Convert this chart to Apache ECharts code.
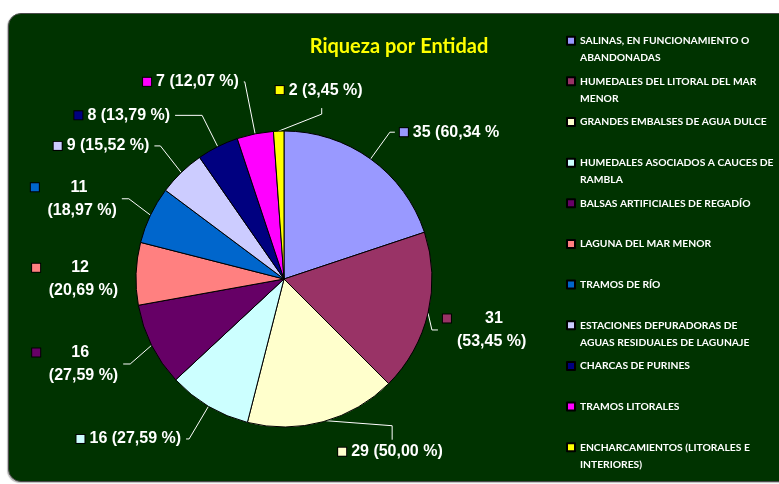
<!DOCTYPE html>
<html>
<head>
<meta charset="utf-8">
<script src="https://cdn.jsdelivr.net/npm/echarts@6/dist/echarts.min.js"></script>
<style>
  html, body { margin: 0; padding: 0; background: #fff; overflow: hidden; }
  #box {
    position: absolute; left: 8px; top: 13px; width: 800px; height: 467px;
    background: #003300; border: 1px solid #4a4a4a; border-radius: 13px;
    box-shadow: -1px 1px 1px #bbb;
  }
  #chart { position: absolute; left: 0; top: 0; width: 779px; height: 484px; }
</style>
</head>
<body>
<div id="box"></div>
<div id="chart"></div>
<script>
// datos
const categories = [
  'SALINAS, EN FUNCIONAMIENTO O\nABANDONADAS',
  'HUMEDALES DEL LITORAL DEL MAR\nMENOR',
  'GRANDES EMBALSES DE AGUA DULCE',
  'HUMEDALES ASOCIADOS A CAUCES DE\nRAMBLA',
  'BALSAS ARTIFICIALES DE REGADÍO',
  'LAGUNA DEL MAR MENOR',
  'TRAMOS DE RÍO',
  'ESTACIONES DEPURADORAS DE\nAGUAS RESIDUALES DE LAGUNAJE',
  'CHARCAS DE PURINES',
  'TRAMOS LITORALES',
  'ENCHARCAMIENTOS (LITORALES E\nINTERIORES)'
]
const values = [35, 31, 29, 16, 16, 12, 11, 9, 8, 7, 2]
const labelTexts = [
  '35 (60,34 %', '31\n(53,45 %)', '29 (50,00 %)', '16 (27,59 %)',
  '16\n(27,59 %)', '12\n(20,69 %)', '11\n(18,97 %)', '9 (15,52 %)',
  '8 (13,79 %)', '7 (12,07 %)', '2 (3,45 %)'
]
const colors = ['#9999ff', '#993366', '#ffffcc', '#ccffff', '#660066', '#ff8080',
  '#0066cc', '#ccccff', '#000080', '#ff00ff', '#ffff00']

// ajustes de las lineas guia (estilo Excel)
const lineLen = [33, 4, 32, 38, 24, 12, 24, 30, 35, 53, 20]
const lineLen2 = [5, 6, 2, 3, 7, 1, 7, 6, 27, 1, 5]
const nudge = [0, 16, 0, 0, 8, 6, -6, -5, 0, 0, 0]

const chart = echarts.init(document.getElementById('chart'))

const lblFont = { color: '#fff', fontSize: 16, fontWeight: 'bold', fontFamily: 'Liberation Sans, Arial', lineHeight: 23 }
const rich = {
  g: { width: 5 },
  r: { width: 14 },
  t: Object.assign({}, lblFont),
  w: Object.assign({ width: 70, align: 'center' }, lblFont)
}
colors.forEach((c, i) => {
  rich['s' + i] = { width: 8, height: 8, backgroundColor: c, borderColor: '#000', borderWidth: 1 }
})

function labelFormatter (p) {
  const i = p.dataIndex
  const txt = labelTexts[i]
  if (txt.indexOf('\n') >= 0) {
    const parts = txt.split('\n')
    return '{s' + i + '|}{g|}{w|' + parts[0] + '}\n{r|}{t|' + parts[1] + '}'
  }
  return '{s' + i + '|}{g|}{t|' + txt + '}'
}

function labelLayout (params) {
  const i = params.dataIndex
  const pts = params.labelLinePoints
  if (!pts) return {}
  const p0 = pts[0]
  if (i === values.length - 1) {
    // la etiqueta pequeña va a la derecha de su linea, como en el original
    return {
      x: p0[0] - 3,
      y: p0[1] - 41,
      align: 'left',
      verticalAlign: 'middle',
      labelLinePoints: [p0, [p0[0] + 43, p0[1] - 17], [p0[0] + 43, p0[1] - 23]]
    }
  }
  if (i === 2) {
    // linea que baja por la derecha hasta la etiqueta
    return {
      x: p0[0] + 15,
      y: p0[1] + 30,
      align: 'left',
      verticalAlign: 'middle',
      labelLinePoints: [[p0[0] + 3, p0[1] - 1], [p0[0] + 69, p0[1] + 4], [p0[0] + 69, p0[1] + 18]]
    }
  }
  const dy = nudge[i]
  if (!dy) return {}
  return {
    dy: dy,
    labelLinePoints: [pts[0], [pts[1][0], pts[1][1] + dy], [pts[2][0], pts[2][1] + dy]]
  }
}

const legends = categories.map((name, i) => {
  const twoLines = name.indexOf('\n') >= 0
  const iconCenter = 40.7 + i * 40.65
  return {
    data: [name],
    orient: 'vertical',
    left: 566,
    top: iconCenter - (twoLines ? 25.5 : 8.5),
    padding: 0,
    itemWidth: 8,
    itemHeight: 8,
    itemGap: 0,
    icon: 'rect',
    selectedMode: false,
    formatter: n => (n.indexOf('\n') >= 0 ? ' \n' + n : n),
    textStyle: {
      color: '#fff',
      fontFamily: 'Lato',
      fontWeight: 'bold',
      fontSize: 10.3,
      lineHeight: 17
    }
  }
})

const option = {
  animation: false,
  title: {
    text: 'Riqueza por Entidad',
    left: 394,
    top: 32,
    textAlign: 'center',
    textStyle: { color: '#ffff00', fontFamily: 'Lato', fontWeight: 'bold', fontSize: 20 }
  },
  legend: legends,
  series: [{
    type: 'pie',
    center: [284, 279],
    radius: 148,
    startAngle: 90,
    clockwise: true,
    avoidLabelOverlap: false,
    color: colors,
    itemStyle: { borderColor: '#000', borderWidth: 1 },
    label: {
      show: true,
      position: 'outside',
      formatter: labelFormatter,
      overflow: 'none',
      rich: rich
    },
    labelLine: {
      show: true,
      lineStyle: { color: '#fff', width: 1 }
    },
    labelLayout: labelLayout,
    emphasis: { disabled: true },
    data: categories.map((name, i) => ({
      name: name,
      value: values[i],
      label: labelTexts[i].indexOf('\n') >= 0 ? { width: 89 } : {},
      labelLine: { length: lineLen[i], length2: lineLen2[i], show: i !== 5 }
    }))
  }]
}

chart.setOption(option)
</script>
</body>
</html>
